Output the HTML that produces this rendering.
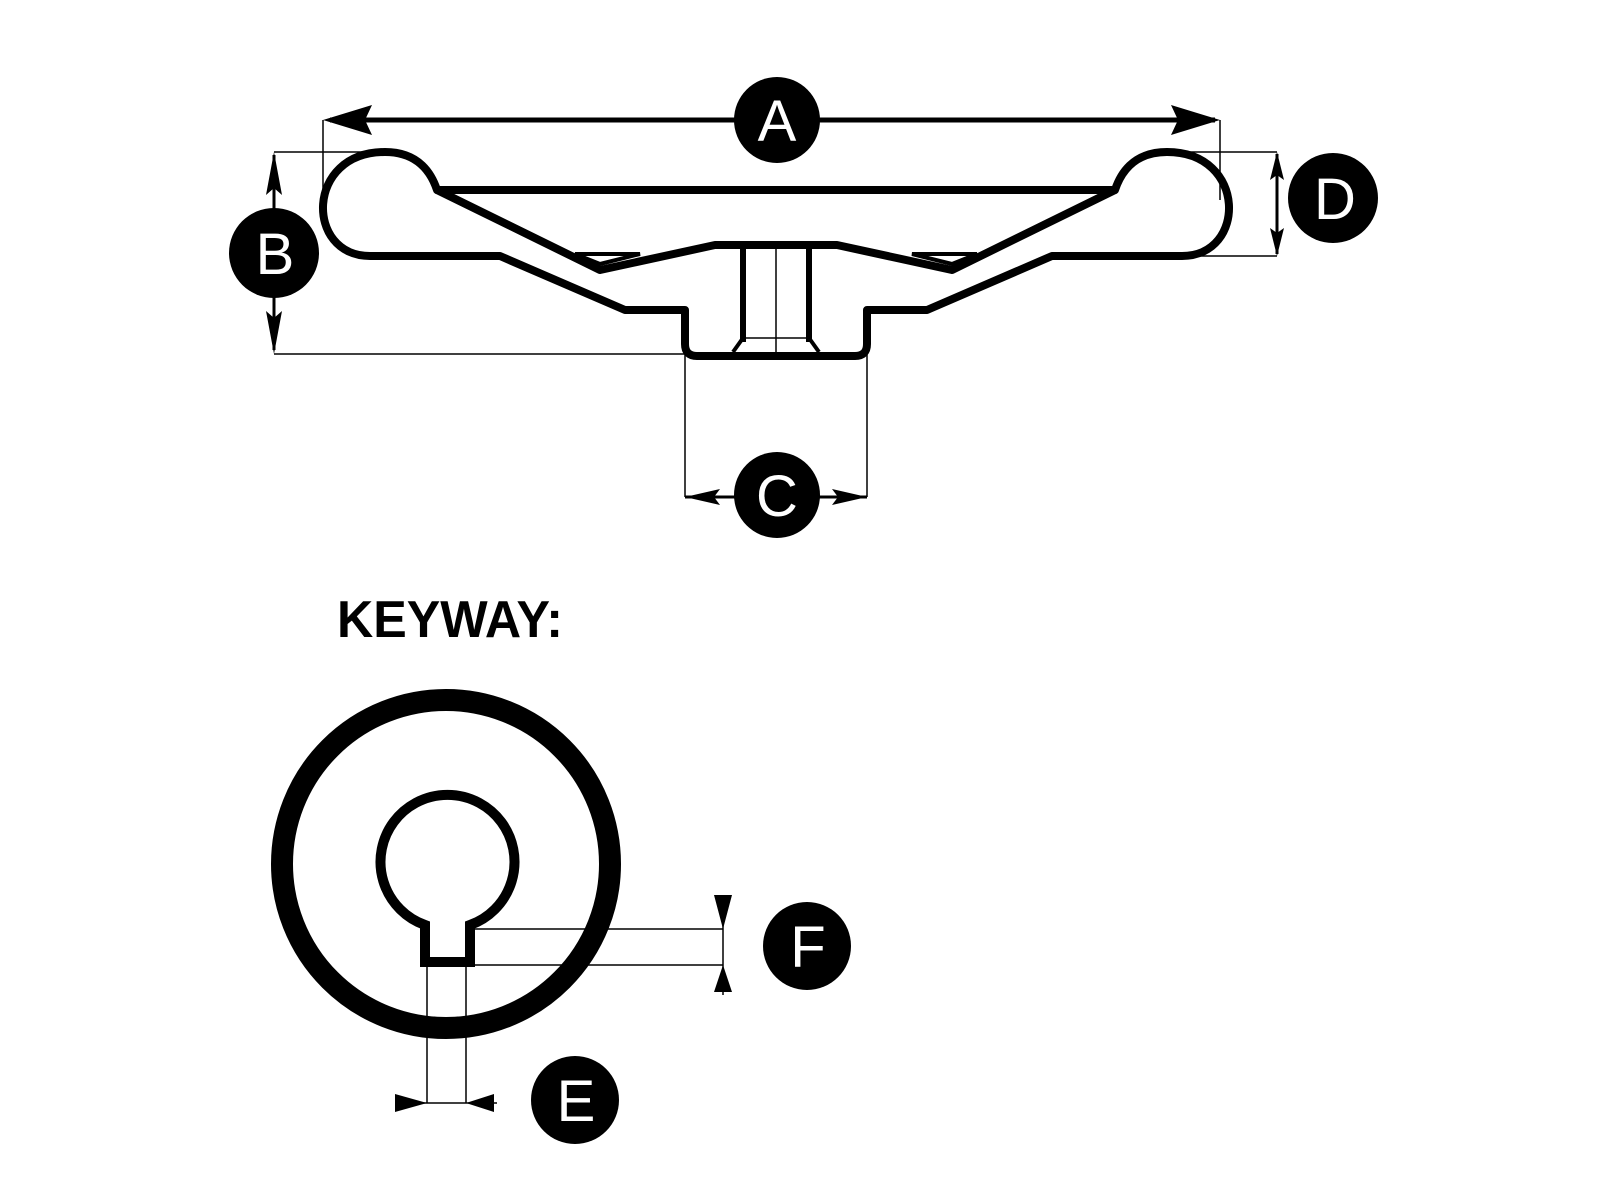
<!DOCTYPE html>
<html><head><style>html,body{margin:0;padding:0;background:#fff}svg{display:block}</style></head>
<body>
<svg width="1600" height="1200" viewBox="0 0 1600 1200" xmlns="http://www.w3.org/2000/svg">
<defs>
<g id="half">
<path d="M776,356 L697,356 Q685,356 685,344 L685,310 L625,310 L500,256 L370,256 C305,256 305,152 385,152 C420,152 432,175 437,190 L776,190" fill="none" stroke="#000" stroke-width="8" stroke-linejoin="round"/>
<path d="M437,190 L600,270 L715,245 L776,245" fill="none" stroke="#000" stroke-width="8" stroke-linejoin="round"/>
<path d="M575,254 L640,254 L600,264 Z" fill="none" stroke="#000" stroke-width="4"/>
<line x1="743" y1="245" x2="743" y2="342" stroke="#000" stroke-width="6"/>
<path d="M743,338 L733,352" stroke="#000" stroke-width="4"/>
<line x1="743" y1="338" x2="776" y2="338" stroke="#000" stroke-width="1.5"/>
</g>
</defs>
<use href="#half"/>
<use href="#half" transform="translate(1552,0) scale(-1,1)"/>
<line x1="776" y1="245" x2="776" y2="352" stroke="#000" stroke-width="1.5"/>

<!-- A -->
<g stroke="#000" stroke-width="1.5">
<line x1="323" y1="120" x2="323" y2="200"/>
<line x1="1220" y1="120" x2="1220" y2="200"/>
<line x1="274" y1="152" x2="380" y2="152"/>
<line x1="274" y1="354" x2="685" y2="354"/>
<line x1="685" y1="354" x2="685" y2="497"/>
<line x1="867" y1="354" x2="867" y2="497"/>
<line x1="1170" y1="152" x2="1277" y2="152"/>
<line x1="1170" y1="256" x2="1277" y2="256"/>
</g>
<line x1="330" y1="120" x2="1215" y2="120" stroke="#000" stroke-width="5"/>
<polygon points="323,120 372,105 365,120 372,135" fill="#000"/>
<polygon points="1220,120 1171,105 1178,120 1171,135" fill="#000"/>
<!-- B -->
<line x1="274" y1="155" x2="274" y2="350" stroke="#000" stroke-width="3"/>
<polygon points="274,152 266,195 274,188 282,195" fill="#000"/>
<polygon points="274,354 266,311 274,318 282,311" fill="#000"/>
<!-- C -->
<line x1="685" y1="497" x2="867" y2="497" stroke="#000" stroke-width="3"/>
<polygon points="685,497 720,489 714,497 720,505" fill="#000"/>
<polygon points="867,497 832,489 838,497 832,505" fill="#000"/>
<!-- D -->
<line x1="1277" y1="154" x2="1277" y2="254" stroke="#000" stroke-width="3"/>
<polygon points="1277,152 1270,180 1277,175 1284,180" fill="#000"/>
<polygon points="1277,256 1270,228 1277,233 1284,228" fill="#000"/>

<g font-family="Liberation Sans, sans-serif" font-size="58" fill="#fff" text-anchor="middle">
<circle cx="777" cy="120" r="43" fill="#000"/><text x="777" y="141">A</text>
<circle cx="274" cy="253" r="45" fill="#000"/><text x="275" y="274">B</text>
<circle cx="777" cy="495" r="43" fill="#000"/><text x="777" y="516">C</text>
<circle cx="1333" cy="198" r="45" fill="#000"/><text x="1335" y="219">D</text>
<circle cx="807" cy="946" r="44" fill="#000"/><text x="808" y="967">F</text>
<circle cx="575" cy="1100" r="44" fill="#000"/><text x="576" y="1121">E</text>
</g>

<text x="337" y="637" font-family="Liberation Sans, sans-serif" font-weight="bold" font-size="52" textLength="226" lengthAdjust="spacingAndGlyphs">KEYWAY:</text>

<!-- keyway -->
<circle cx="446" cy="864" r="164" fill="none" stroke="#000" stroke-width="22"/>
<path d="M425,925 A67,67 0 1 1 470,925 L470,962 L425,962 Z" fill="none" stroke="#000" stroke-width="10" stroke-linejoin="miter"/>
<g stroke="#000" stroke-width="1.5">
<line x1="470" y1="929" x2="723" y2="929"/>
<line x1="470" y1="965" x2="723" y2="965"/>
<line x1="723" y1="900" x2="723" y2="995"/>
<line x1="427" y1="965" x2="427" y2="1103"/>
<line x1="466" y1="965" x2="466" y2="1103"/>
<line x1="398" y1="1103" x2="497" y2="1103"/>
</g>
<polygon points="723,929 714,895 732,895" fill="#000"/>
<polygon points="723,965 714,992 732,992" fill="#000"/>
<polygon points="427,1103 395,1094 395,1112" fill="#000"/>
<polygon points="466,1103 494,1094 494,1112" fill="#000"/>
</svg>
</body></html>
